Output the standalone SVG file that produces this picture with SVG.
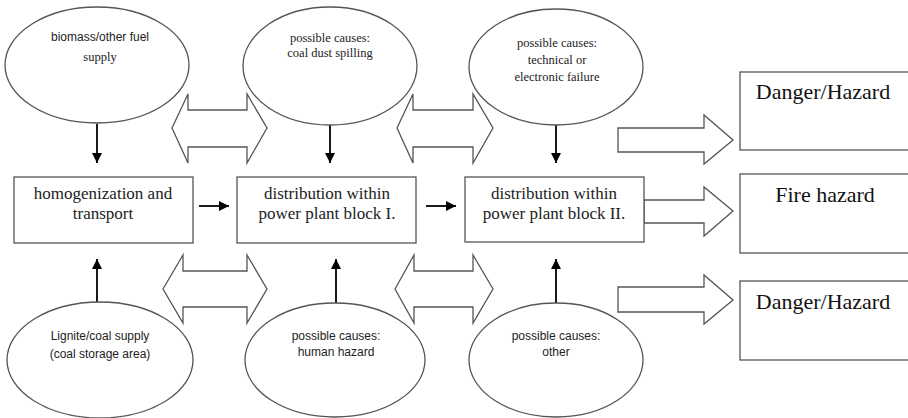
<svg xmlns="http://www.w3.org/2000/svg" width="908" height="418" viewBox="0 0 908 418">
<defs>
<marker id="ah" viewBox="0 0 10 10" refX="10" refY="5" markerWidth="10" markerHeight="10" markerUnits="userSpaceOnUse" orient="auto">
<path d="M0,0 L10,5 L0,10 Z" fill="#000"/>
</marker>
<style>
.sh{fill:#fff;stroke:#555;stroke-width:1.3}
.ln{stroke:#000;stroke-width:1.8;fill:none;marker-end:url(#ah)}
.ss{font-family:"Liberation Sans",Arial,sans-serif;font-size:12px;fill:#222;text-anchor:middle}
.sf{font-family:"Liberation Serif","Times New Roman",serif;font-size:12.5px;fill:#222;text-anchor:middle}
.bx{font-family:"Liberation Serif","Times New Roman",serif;font-size:17px;fill:#222;text-anchor:middle}
.hz{font-family:"Liberation Serif","Times New Roman",serif;font-size:22px;fill:#111;text-anchor:middle}
</style>
</defs>
<rect width="908" height="418" fill="#fff"/>

<g id="connectors">
<path class="ln" d="M97,124 V163"/>
<path class="ln" d="M330,125 V163"/>
<path class="ln" d="M556,125 V163"/>
<path class="ln" d="M97,302 V259"/>
<path class="ln" d="M336,303 V259"/>
<path class="ln" d="M556,303 V259"/>
<path class="ln" d="M199,206 H229"/>
<path class="ln" d="M426,206 H456"/>
<path class="sh" d="M172,128 L188,94 V110 H247 V94 L267,128 L247,163 V147 H188 V163 Z"/>
<path class="sh" d="M397,128 L413,94 V110 H473 V94 L493,128 L473,163 V147 H413 V163 Z"/>
<path class="sh" d="M163,289 L183,255 V271 H247 V255 L267,289 L247,323 V307 H183 V323 Z"/>
<path class="sh" d="M395,289 L414,255 V271 H473 V255 L493,289 L473,323 V307 H414 V323 Z"/>
<path class="sh" d="M618,128 H704 V115 L733,140 L704,164 V152 H618 Z"/>
<path class="sh" d="M644,200 H704 V187 L733,211 L704,236 V223 H644 Z"/>
<path class="sh" d="M618,287 H704 V275 L733,300 L704,324 V312 H618 Z"/>
</g>

<g id="e-biomass">
<ellipse class="sh" cx="97" cy="65" rx="92" ry="58"/>
<text class="ss" x="100" y="41">biomass/other fuel</text>
<text class="sf" x="100" y="61">supply</text>
</g>
<g id="e-dust">
<ellipse class="sh" cx="330" cy="66" rx="87" ry="59"/>
<text class="sf" x="330" y="42">possible causes:</text>
<text class="sf" x="330" y="57">coal dust spilling</text>
</g>
<g id="e-tech">
<ellipse class="sh" cx="556" cy="67" rx="87" ry="58"/>
<text class="sf" x="557" y="47">possible causes:</text>
<text class="sf" x="557" y="64">technical or</text>
<text class="sf" x="557" y="81">electronic failure</text>
</g>

<g id="b-homog">
<rect class="sh" x="14" y="177" width="179" height="66"/>
<text class="bx" x="103" y="199">homogenization and</text>
<text class="bx" x="103" y="219">transport</text>
</g>
<g id="b-block1">
<rect class="sh" x="237" y="177" width="179" height="66"/>
<text class="bx" x="327" y="199">distribution within</text>
<text class="bx" x="327" y="219">power plant block I.</text>
</g>
<g id="b-block2">
<rect class="sh" x="465" y="177" width="179" height="65"/>
<text class="bx" x="554" y="199">distribution within</text>
<text class="bx" x="554" y="219">power plant block II.</text>
</g>

<g id="e-lignite">
<ellipse class="sh" cx="100" cy="360" rx="93" ry="58"/>
<text class="ss" x="100" y="340">Lignite/coal supply</text>
<text class="ss" x="100" y="358">(coal storage area)</text>
</g>
<g id="e-human">
<ellipse class="sh" cx="335" cy="360" rx="90" ry="57"/>
<text class="ss" x="336" y="340">possible causes:</text>
<text class="ss" x="336" y="356">human hazard</text>
</g>
<g id="e-other">
<ellipse class="sh" cx="556" cy="360" rx="87" ry="57"/>
<text class="ss" x="556" y="340">possible causes:</text>
<text class="ss" x="556" y="356">other</text>
</g>

<g id="h-danger1">
<rect class="sh" x="740" y="72" width="180" height="78"/>
<text class="hz" x="823" y="99">Danger/Hazard</text>
</g>
<g id="h-fire">
<rect class="sh" x="740" y="174" width="180" height="79"/>
<text class="hz" x="825" y="202">Fire hazard</text>
</g>
<g id="h-danger2">
<rect class="sh" x="740" y="281" width="180" height="79"/>
<text class="hz" x="823" y="309">Danger/Hazard</text>
</g>
</svg>
